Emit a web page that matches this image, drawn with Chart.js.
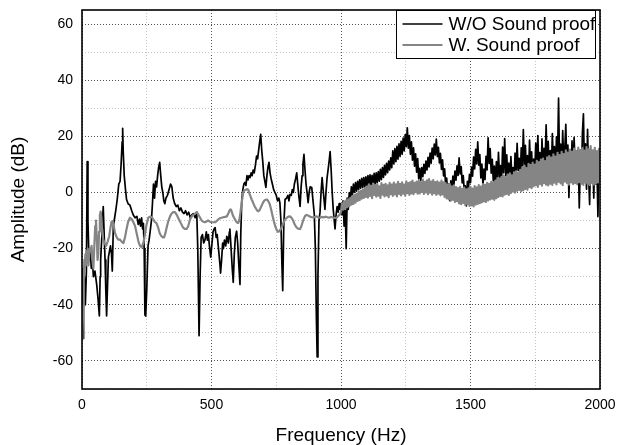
<!DOCTYPE html>
<html>
<head>
<meta charset="utf-8">
<script src="https://cdn.jsdelivr.net/npm/chart.js@4.4.1/dist/chart.umd.min.js"></script>
<style>
  body { margin: 0; background: #fff; }
  #wrap { width: 617px; height: 445px; }
</style>
</head>
<body>
<div id="wrap"><canvas id="spectrum" width="617" height="445"></canvas></div>
<script>
// series names (legend order)
var seriesNames = ["W/O Sound proof", "W. Sound proof"];

// 0 - 1000 Hz as [Hz, dB]
var blackLow = [
  [0,-27],[2,-40],[4,-52],[6,-36],[9,-30],[13,-40],[17,-28],[20,11],[23,-10],[27,-24],
  [31,-20],[36,-27],[40,-24],[44,-30],[50,-28],[57,-33],[62,-38],[67,-44],[70,-30],[72,-24],
  [77,-15],[82,-5],[86,-16],[89,-24],[92,-35],[95,-44],[99,-32],[102,-23],[106,-21],[110,-19],
  [114,-22],[117,-28],[121,-12],[126,-9],[131,-6],[136,-2.5],[142,3],[147,4],[151,10],[155,18],
  [157,22.8],[159,15],[163,6],[168,1],[172,-2.5],[178,-4],[185,-4.5],[192,-6.5],[198,-8],[205,-9],
  [212,-8.5],[217,-11.4],[222,-9.5],[226,-12],[230,-9],[234,-13],[237,-11],[240,-20],[243,-43.6],[246,-44],
  [250,-34.6],[255,-19],[259,-17],[263,-14],[268,-10],[272,-4],[276,3],[280,-2],[284,4],[288,2],
  [292,6],[296,9],[300,10.7],[304,6],[308,2],[312,0],[316,-3],[320,-4],[324,-2],[330,-1],
  [336,1],[342,3],[347,2],[352,-2],[358,-4],[364,-5],[370,-4.5],[376,-6.5],[382,-5.5],[388,-7],
  [394,-7.5],[400,-6.5],[406,-8],[412,-7],[418,-9],[424,-8],[430,-7.5],[437,-9],[443,-7],[447,-20],
  [452,-51],[456,-30],[460,-16],[465,-15],[470,-18],[475,-16.8],[480,-14],[484,-17],[488,-15],[492,-19],
  [497,-23],[501,-19],[506,-14],[510,-13],[514,-12.5],[518,-16],[522,-15],[528,-21],[533,-26],[535,-28.7],
  [539,-24],[543,-18],[546,-20],[550,-17],[555,-19],[559,-15.6],[565,-18],[569,-14],[571,-13],[575,-19],
  [580,-27],[584,-32],[588,-22],[592,-16],[597,-13.8],[601,-18],[605,-25],[610,-32.8],[613,-15],[617,-2.5],
  [621,1],[625,3],[629,3.6],[633,2.5],[637,6],[641,4.5],[645,6],[649,5.3],[653,7],[657,6],
  [661,8],[665,7],[670,10],[674,13],[678,12],[682,15],[686,18],[690,20.7],[694,15],[698,11],
  [702,6],[706,4],[710,1.8],[714,6],[718,9],[722,10.7],[726,7],[730,5],[735,3],[740,1],
  [745,0],[750,-1],[755,-3],[760,-2],[764,-3.6],[768,-10],[772,-26],[775,-35],[779,-12],[784,-2.5],
  [790,-2],[795,-1],[799,-3],[803,-0.7],[808,-1],[812,1],[816,0],[820,3],[825,5],[829,7],
  [833,3],[837,-1],[842,-5],[846,2],[850,6],[853,10],[857,13.6],[861,8],[865,3],[869,0],
  [873,-3.6],[877,0],[881,2],[887,1.8],[892,-3],[897,-8],[901,-20],[905,-45],[908,-58.6],[911,-30],
  [915,-10],[919,-7],[923,0],[927,5.3],[931,1],[935,-3],[938,-6],[942,0],[946,5],[950,8],
  [954,11],[958,14.6],[962,8],[966,0],[970,-6],[974,-10],[977,-13],[981,-8],[985,-5],[989,-7],
  [993,-4],[996,-6]
];

var greyLow = [
  [0,-48],[1,-52],[3,-50],[5,-40],[7,-30],[9,-24],[11,-27],[13,-22],[15,-26],[17,-21],
  [19,-25],[22,-20],[25,-26],[28,-22],[31,-20],[34,-21],[37,-19],[40,-24],[44,-27],[48,-18],
  [51,-12],[54,-10],[57,-16],[60,-24],[63,-22],[66,-14],[69,-8],[72,-6.8],[75,-9],[78,-14],
  [82,-16.8],[87,-18],[93,-19],[99,-17.5],[105,-15.6],[110,-12.5],[114,-10.5],[118,-10.2],[122,-11.5],[127,-14.3],
  [134,-16],[140,-16.8],[147,-16.8],[153,-17.5],[160,-18],[166,-16],[172,-13],[178,-10.5],[185,-9],[192,-9.5],
  [198,-10.5],[205,-12],[212,-15],[218,-17.5],[224,-19],[230,-19.5],[237,-18],[243,-15],[249,-11.5],[256,-9],
  [263,-8.6],[270,-8.8],[276,-9.8],[282,-10.5],[288,-11],[294,-12.5],[300,-14.5],[306,-15.5],[312,-16],[317,-16],
  [322,-14.5],[328,-12],[334,-10],[340,-8.5],[346,-7.5],[352,-7],[359,-7],[366,-8],[374,-9.5],[382,-11],
  [390,-12.5],[398,-13],[404,-13],[410,-12],[417,-9.6],[424,-8.5],[430,-8],[437,-7.5],[443,-7],[450,-8],
  [456,-9],[462,-10],[468,-10.4],[474,-10.6],[480,-10.4],[487,-10],[494,-10.4],[500,-10.6],[507,-10.6],[514,-10.6],
  [520,-10.2],[527,-9.5],[533,-9.2],[539,-9],[546,-8.8],[552,-8.7],[559,-8.5],[565,-7.5],[570,-6.3],[574,-6],
  [578,-6.8],[582,-8],[587,-9],[591,-9.6],[595,-10.3],[600,-10.8],[604,-10.8],[608,-9.5],[612,-7],[616,-4],
  [620,-1.5],[623,0.3],[628,0.8],[633,1],[638,1.2],[642,1],[646,-0.3],[651,-1.5],[655,-2.5],[660,-3.5],
  [666,-4.8],[672,-5.8],[677,-6.5],[681,-6.7],[686,-6.2],[692,-5],[698,-3.8],[703,-3],[708,-2.6],[714,-2.5],
  [719,-3],[725,-4.2],[730,-6],[735,-8],[740,-10],[746,-12],[751,-13.2],[757,-14],[762,-13.8],[768,-13],
  [773,-12],[779,-10.5],[785,-9.5],[791,-9],[797,-8.6],[803,-8.5],[809,-9],[815,-10],[821,-11.3],[827,-12.3],
  [833,-12.8],[838,-13],[842,-13],[847,-12],[852,-10.5],[857,-9.2],[862,-8.3],[867,-8],[873,-8.2],[880,-8.6],
  [887,-8.8],[894,-8.9],[900,-8.7],[906,-8.5],[912,-8.8],[919,-9],[926,-8.7],[933,-8.9],[940,-8.6],[947,-8.8],
  [954,-9],[961,-8.7],[968,-8.9],[975,-9.1],[983,-9],[990,-8.3],[996,-7.8]
];

// 1000 - 2000 Hz, one reading every 4 Hz (dense noisy part)
var hiStartHz = 1000;
var hiStepHz = 4;

var blackHi = [
  -4,-8,-3,-12,-5,-20,-2,-6,0,-3, 2,-1,3,0,3.5,0.5,4,1,4.5,1.5, 5,1.8,5.3,2,5.6,
  2.2,6.0,2.6,6.3,2.4,6.1,3.0,6.8,2.9,7.0, 3.5,7.4,4.0,8.2,4.6,8.9,5.4,9.7,6.3,10.4, 7.1,11.2,8.0,12.3,8.8,
  14.8,10.2,15.6,11.0,16.4,11.9,17.3,12.8,18.2,13.6, 19.4,14.8,20.6,16.3,23.0,15.8,20.3,13.6,18.0,11.5, 15.9,9.4,13.8,7.2,12.1,
  4.8,8.6,4.2,8.9,5.6,10.0,6.8,11.2,8.0,12.5, 9.1,14.0,10.4,15.8,12.0,17.2,13.4,19.0,12.8,16.1, 10.5,13.9,8.2,11.6,5.9,
  8.4,2.6,5.1,-0.3,3.0,-2.9,4.1,1.0,5.8,2.7, 7.6,4.4,9.5,6.1,12.3,6.6,9.2,3.4,6.0,0.5, 2.4,-4.8,4.0,1.2,6.5,
  3.5,9.0,5.8,12.6,8.4,15.4,10.2,18.0,9.7,13.5, 5.2,10.1,2.8,8.3,4.6,12.9,8.0,19.5,10.3,15.6, 6.9,11.8,4.1,9.4,3.0,
  11.0,4.2,14.3,5.5,9.6,3.8,16.2,7.0,19.2,6.1, 13.4,4.7,10.5,3.3,12.8,5.0,8.9,2.9,14.0,6.4, 17.5,7.8,12.2,5.1,15.9,
  8.2,22.4,9.5,16.8,6.3,13.1,4.9,18.7,8.1,14.5, 5.6,11.9,7.2,17.6,9.0,20.3,7.7,14.2,6.0,19.1, 8.8,15.7,10.4,24.1,9.3,
  18.2,8.0,14.9,6.5,21.0,10.2,16.3,7.4,19.8,11.5, 33.6,9.9,17.2,6.8,22.0,10.7,15.5,24.3,8.6,16.9, -1.8,13.3,5.2,18.4,7.1,
  19.6,9.2,14.0,4.0,12.5,-5.5,10.8,3.5,21.0,28.0, 7.5,17.3,1.2,22.5,6.0,-4.3,15.0,5.5,11.8,-2.0, 14.6,3.0,9.5,-8.6,12.0,7.0
];

var greyHi = [
  -6.8,-3.9,-6.1,-3.2,-5.9,-2.8,-5.2,-2.4,-4.9,-1.9, -4.3,-1.2,-4.1,-0.9,-3.6,-0.5,-3.0,0.2,-2.7,0.6, -2.2,1.1,-1.9,1.3,-1.6,
  2.1,-1.8,2.9,-1.2,2.4,-2.0,3.2,-0.9,2.6,-1.5, 3.0,-1.1,2.2,-1.9,3.3,-0.8,2.7,-1.4,3.1,-1.0, 2.5,-1.7,3.4,-0.6,2.8,
  -1.2,3.5,-0.7,2.9,-1.4,3.8,-0.5,3.1,-1.0,3.6, -0.4,2.8,-1.1,4.0,-0.2,3.3,-0.9,3.7,-0.3,4.2, -0.6,3.4,0.1,3.9,-0.4,
  4.1,-0.3,3.6,0.2,4.6,-0.5,3.8,0.0,4.3,-0.6, 4.8,-0.1,3.9,-0.8,4.4,-0.2,3.7,-0.9,4.0,-0.4, 3.5,-1.0,4.2,-0.7,3.6,
  -1.6,3.3,-2.1,2.8,-2.4,3.0,-2.9,2.2,-2.6,2.5, -3.4,1.9,-3.1,1.6,-3.9,2.0,-4.2,1.3,-3.7,1.7, -4.5,1.1,-4.1,1.5,-4.8,
  2.0,-4.6,1.4,-5.0,2.3,-4.3,1.8,-4.1,2.6,-3.8, 2.1,-3.5,3.0,-3.2,2.7,-3.4,3.4,-2.8,3.1,-2.5, 3.8,-2.2,3.5,-2.6,4.2,
  -2.0,5.1,-1.6,4.8,-1.2,5.6,-1.4,6.0,-0.8,5.5, -0.5,6.4,-0.9,6.8,-0.2,6.1,0.3,7.2,-0.1,7.5, 0.6,7.0,0.9,8.1,0.5,
  9.0,0.8,9.6,1.3,8.7,1.0,10.2,1.9,9.8,1.5, 10.6,2.2,9.9,2.6,11.3,2.0,10.8,3.0,11.7,2.4, 12.1,3.3,11.2,2.8,12.5,
  2.5,13.0,3.1,12.4,2.7,13.6,3.5,12.8,2.9,14.1, 3.8,13.3,3.2,14.5,2.6,13.7,3.9,15.0,3.4,14.2, 2.8,15.3,3.6,14.6,3.0,
  15.6,3.3,14.8,2.9,16.0,3.7,15.1,3.1,15.8,2.7, 14.9,3.5,16.2,3.0,15.4,2.6,16.5,3.4,15.0,2.8, 15.9,3.2,14.7,3.6,15.5,3.0
];

// axes
var xMin = 0, xMax = 2000, xLabelEvery = 500;
var xGridTicks = [0, 250, 500, 750, 1000, 1250, 1500, 1750, 2000];
var yMin = -70, yMax = 65, yLabelEvery = 20;
var yGridTicks = [-70, -60, -50, -40, -30, -20, -10, 0, 10, 20, 30, 40, 50, 60];

var fontFam = "Arial, 'Liberation Sans', sans-serif";

function toPoints(low, hi) {
  var pts = [];
  for (var i = 0; i < low.length; i++) pts.push({x: low[i][0], y: low[i][1]});
  for (var j = 0; j < hi.length; j++) pts.push({x: hiStartHz + j * hiStepHz, y: hi[j]});
  return pts;
}

// box around plot area
var framePlugin = {
  id: "frame",
  afterDatasetsDraw: function(chart) {
    var a = chart.chartArea, ctx = chart.ctx;
    ctx.save();
    ctx.strokeStyle = "#000";
    ctx.lineWidth = 1.6;
    ctx.strokeRect(a.left, a.top, a.right - a.left, a.bottom - a.top);
    ctx.restore();
  }
};

// boxed legend in the upper right corner
var boxLegend = {
  id: "boxLegend",
  afterDraw: function(chart) {
    var ctx = chart.ctx, a = chart.chartArea;
    var x0 = a.right - 203.5, y0 = a.top + 0.5, w = 199, h = 48;
    ctx.save();
    ctx.fillStyle = "#fff";
    ctx.fillRect(x0, y0, w, h);
    ctx.strokeStyle = "#000";
    ctx.lineWidth = 1;
    ctx.strokeRect(x0, y0, w, h);
    ctx.font = "19px " + fontFam;
    ctx.textBaseline = "middle";
    chart.data.datasets.forEach(function(ds, i) {
      var yy = y0 + 13.5 + i * 21;
      ctx.strokeStyle = ds.borderColor;
      ctx.lineWidth = ds.borderWidth;
      ctx.beginPath();
      ctx.moveTo(x0 + 6, yy);
      ctx.lineTo(x0 + 46, yy);
      ctx.stroke();
      ctx.fillStyle = "#000";
      ctx.fillText(ds.label, x0 + 52, yy + 1);
    });
    ctx.restore();
  }
};

var ctx = document.getElementById("spectrum");

var chart = new Chart(ctx, {
  type: "line",
  data: {
    datasets: [
      {
        label: seriesNames[0],
        data: toPoints(blackLow, blackHi),
        borderColor: "#000000",
        borderWidth: 1.7,
        pointRadius: 0,
        tension: 0,
        borderJoinStyle: "round",
        order: 2
      },
      {
        label: seriesNames[1],
        data: toPoints(greyLow, greyHi),
        borderColor: "#858585",
        borderWidth: 2.2,
        pointRadius: 0,
        tension: 0,
        borderJoinStyle: "round",
        order: 1
      }
    ]
  },
  options: {
    responsive: false,
    devicePixelRatio: 1,
    animation: false,
    layout: { padding: { left: 0, right: 17, top: 10, bottom: 0 } },
    plugins: {
      legend: { display: false },
      tooltip: { enabled: false }
    },
    scales: {
      x: {
        type: "linear",
        min: xMin,
        max: xMax,
        afterBuildTicks: function(scale) {
          scale.ticks = xGridTicks.map(function(v) { return {value: v}; });
        },
        afterFit: function(scale) {
          scale.height = 56;
          scale.paddingLeft = 0;
          scale.paddingRight = 0;
        },
        ticks: {
          autoSkip: false,
          maxRotation: 0,
          padding: 8,
          color: "#000",
          font: { family: fontFam, size: 14 },
          callback: function(v) { return v % xLabelEvery === 0 ? v : ""; }
        },
        grid: {
          drawTicks: false,
          lineWidth: 1,
          color: function(c) {
            return c.tick && c.tick.value % xLabelEvery === 0 ? "#555" : "#c4c4c4";
          }
        },
        border: { display: false, dash: [1, 2] },
        title: {
          display: true,
          text: "Frequency (Hz)",
          color: "#000",
          font: { family: fontFam, size: 19, lineHeight: 1 },
          padding: { top: 0, bottom: 0 }
        }
      },
      y: {
        type: "linear",
        min: yMin,
        max: yMax,
        afterBuildTicks: function(scale) {
          scale.ticks = yGridTicks.map(function(v) { return {value: v}; });
        },
        afterFit: function(scale) {
          scale.width = 82;
          scale.paddingTop = 0;
          scale.paddingBottom = 0;
        },
        ticks: {
          padding: 9,
          color: "#000",
          font: { family: fontFam, size: 14 },
          callback: function(v) { return v % yLabelEvery === 0 ? v : ""; }
        },
        grid: {
          drawTicks: false,
          lineWidth: 1,
          color: function(c) {
            return c.tick && c.tick.value % yLabelEvery === 0 ? "#555" : "#c4c4c4";
          }
        },
        border: { display: false, dash: [1, 2] },
        title: {
          display: true,
          text: "Amplitude (dB)",
          color: "#000",
          font: { family: fontFam, size: 19, lineHeight: 1 },
          padding: { top: 9, bottom: 0 }
        }
      }
    }
  },
  plugins: [framePlugin, boxLegend]
});
</script>
</body>
</html>
